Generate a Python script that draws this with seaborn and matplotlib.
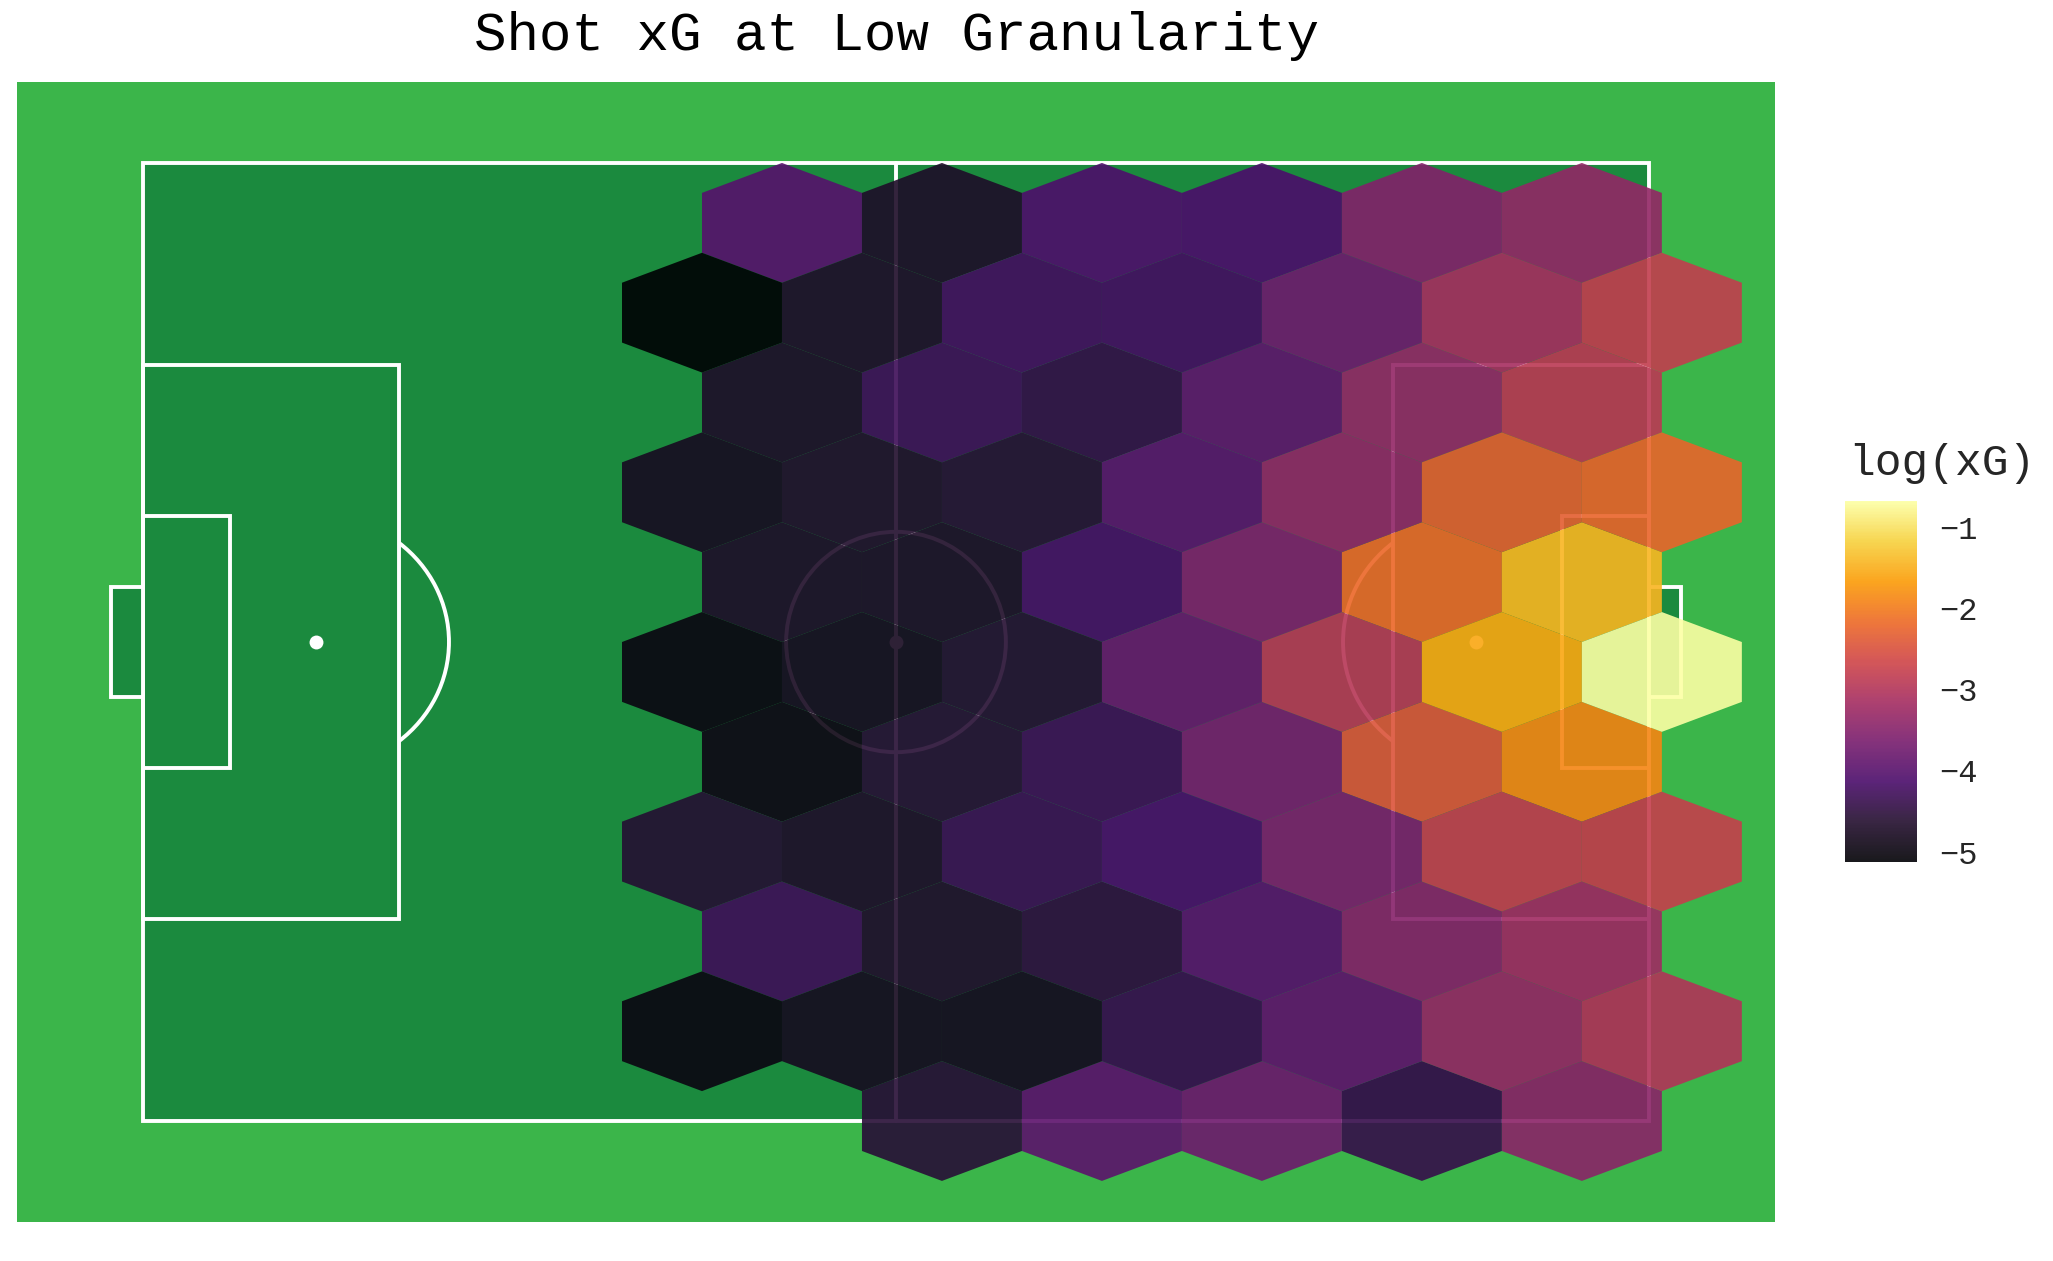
import numpy as np
import matplotlib.pyplot as plt
from matplotlib.patches import Rectangle, Arc, Ellipse
import seaborn as sns

# hex zone centres on a 120 x 80 pitch, top row first
row_y = [75, 67.5, 60, 52.5, 45, 37.5, 30, 22.5, 15, 7.5, 0]
cols_a = [50.92, 63.66, 76.41, 89.15, 101.89, 114.63]          # rows 0, 2, 4 ...
cols_b = [44.55, 57.29, 70.03, 82.78, 95.52, 108.26, 121.0]    # rows 1, 3, 5 ...

nan = np.nan
log_xg = [
    [-4.01, -4.70, -4.08, -4.12, -3.52, -3.34],
    [-5.12, -4.68, -4.23, -4.21, -3.74, -3.14, -2.81],
    [-4.70, -4.28, -4.41, -3.92, -3.34, -2.90],
    [-4.78, -4.64, -4.57, -3.97, -3.37, -2.32, -2.23],
    [-4.70, -4.70, -4.17, -3.57, -2.19, -1.43],
    [-4.96, -4.78, -4.59, -3.83, -2.94, -1.57, -0.68],
    [-4.92, -4.57, -4.30, -3.65, -2.46, -1.88],
    [-4.59, -4.68, -4.32, -4.14, -3.61, -2.81, -2.77],
    [-4.28, -4.64, -4.48, -3.99, -3.48, -3.21],
    [-4.96, -4.80, -4.80, -4.37, -3.90, -3.30, -2.99],
    [nan, -4.55, -3.94, -3.74, -4.39, -3.43],
]

cbar_ticks = [-1, -2, -3, -4, -5]

# inferno-like scale (low end a little warmer, as in the original render)
inferno_stops = ['#000004', '#230e2e', '#4a0c6b', '#781c6d', '#a52c60',
                 '#cf4446', '#ed6925', '#fb9b06', '#f7d13d', '#fcffa4']

xs, ys, vals = [], [], []
for i, (yy, row) in enumerate(zip(row_y, log_xg)):
    cols = cols_a if i % 2 == 0 else cols_b
    for xx, v in zip(cols, row):
        if not np.isnan(v):
            xs.append(xx)
            ys.append(yy)
            vals.append(v)

sns.set_theme(style="white")
plt.rcParams['font.family'] = ['Liberation Mono', 'DejaVu Sans Mono']
cmap = sns.blend_palette(inferno_stops, n_colors=256, as_cmap=True)

fig = plt.figure(figsize=(20.53, 12.61), dpi=100)
ax = fig.add_axes([17 / 2053, 1 - 1222 / 1261, 1758 / 2053, 1140 / 1261])
ax.set_facecolor('#3bb54a')

lw = 2.8
line = dict(color='white', lw=lw, zorder=2)
fill = '#1b8a3e'

# pitch
ax.add_patch(Rectangle((0, 0), 120, 80, facecolor=fill, edgecolor='white', lw=lw, zorder=1))
ax.plot([60, 60], [0, 80], **line)
ax.add_patch(Ellipse((60, 40), 17.5, 18.4, fill=False, edgecolor='white', lw=lw, zorder=2))
ax.scatter([60, 13.8, 106.2], [40, 40, 40], s=100, color='white', zorder=2, linewidths=0)

for side in (0, 1):
    sgn = 1 if side == 0 else -1
    x0 = 0 if side == 0 else 120
    # penalty area
    ax.add_patch(Rectangle((x0, 16.9), sgn * 20.4, 46.2, fill=False, edgecolor='white', lw=lw, zorder=2))
    # six yard box
    ax.add_patch(Rectangle((x0, 29.5), sgn * 7.0, 21.0, fill=False, edgecolor='white', lw=lw, zorder=2))
    # goal
    ax.add_patch(Rectangle((x0, 35.4), -sgn * 2.5, 9.2, facecolor=fill, edgecolor='white', lw=lw, zorder=2))
    # D
    spot = 13.8 if side == 0 else 106.2
    ang = np.degrees(np.arccos(6.6 / 10.6))
    if side == 0:
        ax.add_patch(Arc((spot, 40), 21.2, 21.2, theta1=-ang, theta2=ang, edgecolor='white', lw=lw, zorder=2))
    else:
        ax.add_patch(Arc((spot, 40), 21.2, 21.2, theta1=180 - ang, theta2=180 + ang, edgecolor='white', lw=lw, zorder=2))

# hexbin
sx = cols_a[1] - cols_a[0]
xmin = cols_a[0] - sx
hb = ax.hexbin(xs, ys, C=vals, gridsize=(7, 5), extent=(xmin, xmin + 7 * sx, 0, 75),
               reduce_C_function=np.mean, mincnt=1, cmap=cmap, alpha=0.9,
               linewidths=0, zorder=3)

ax.set_xlim(-10, 130)
ax.set_ylim(-8.43, 86.76)
ax.set_xticks([])
ax.set_yticks([])
for s in ax.spines.values():
    s.set_visible(False)

fig.text(897 / 2053, 1 - 50 / 1261, 'Shot xG at Low Granularity', ha='center', va='baseline',
         fontsize=39, color='black')

cax = fig.add_axes([1845 / 2053, 1 - 862 / 1261, 72 / 2053, 361 / 1261])
cbar = fig.colorbar(hb, cax=cax)
cbar.outline.set_visible(False)
cbar.set_ticks(cbar_ticks)
cax.tick_params(axis='y', direction='in', length=10, width=1.2, color='white',
                left=True, right=True, labelsize=23, pad=16)
fig.text(1848 / 2053, 1 - 475 / 1261, 'log(xG)', ha='left', va='baseline', fontsize=32)

fig.savefig('out.png', dpi=100)
